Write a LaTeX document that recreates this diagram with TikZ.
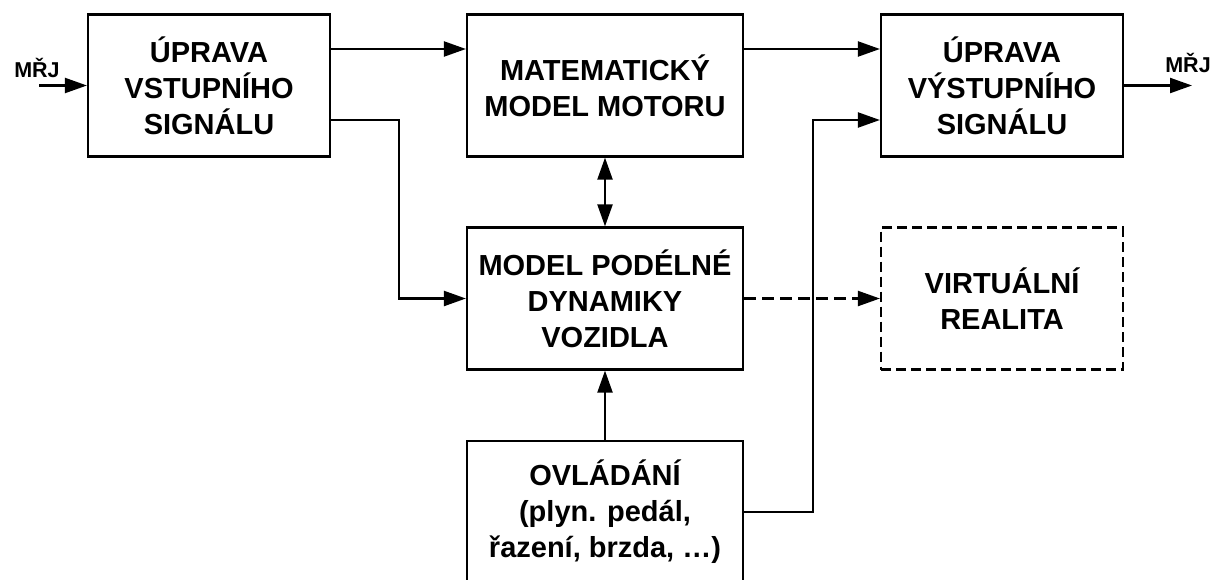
\documentclass[tikz,border=0pt]{standalone}
\usepackage{fontspec}
\setmainfont{Liberation Sans}
\usetikzlibrary{arrows.meta}
\begin{document}
\begin{tikzpicture}[x=1pt,y=-1pt,
  blk/.style={draw, line width=2.2pt, minimum width=242pt, minimum height=142pt,
    align=center, inner sep=0pt, font=\bfseries\fontsize{29}{36}\selectfont},
  wideblk/.style={blk, minimum width=276pt},
  dashblk/.style={blk, dash pattern=on 10pt off 5pt},
  arr/.style={line width=2.2pt, -{Triangle[length=22pt,width=15pt]}},
  dblarr/.style={line width=2.2pt, {Triangle[length=22pt,width=15pt]}-{Triangle[length=22pt,width=15pt]}},
  dasharr/.style={arr, dash pattern=on 12pt off 6pt},
  lbl/.style={font=\bfseries\fontsize{21.5}{24}\selectfont, anchor=base, inner sep=0pt}]
\useasboundingbox (0,0) rectangle (1214,579);
% blocks
\node[blk] (A) at (209,85.5) {ÚPRAVA\\VSTUPNÍHO\\SIGNÁLU};
\node[wideblk] (B) at (605,85.5) {MATEMATICKÝ\\MODEL MOTORU};
\node[blk] (C) at (1002,85.5) {ÚPRAVA\\VÝSTUPNÍHO\\SIGNÁLU};
\node[wideblk] (D) at (605,298.5) {MODEL PODÉLNÉ\\DYNAMIKY\\VOZIDLA};
\node[dashblk] (E) at (1002,298.5) {VIRTUÁLNÍ\\REALITA};
\node[wideblk] (F) at (605,512) {OVLÁDÁNÍ\\(plyn. pedál,\\řazení, brzda, …)};
% input / output
\coordinate (in) at (39,85.5);
\coordinate (out) at (1192,85.5);
\node[lbl] (inlbl) at (37,77) {MŘJ};
\node[lbl] (outlbl) at (1188,72) {MŘJ};
\draw[arr] (in) -- (A.west);
\draw[arr] (C.east) -- (out);
% connectors
\draw[arr] ([yshift=36.5pt]A.east) -- ([yshift=36.5pt]B.west);
\draw[arr] ([yshift=-34.5pt]A.east) -- ++(68,0) |- (D.west);
\draw[arr] ([yshift=36.5pt]B.east) -- ([yshift=36.5pt]C.west);
\draw[arr] (F.east) -- ++(69,0) |- ([yshift=-34.5pt]C.west);
\draw[dblarr] (B.south) -- (D.north);
\draw[arr] (F.north) -- (D.south);
\draw[dasharr] (D.east) -- (E.west);
\end{tikzpicture}
\end{document}
